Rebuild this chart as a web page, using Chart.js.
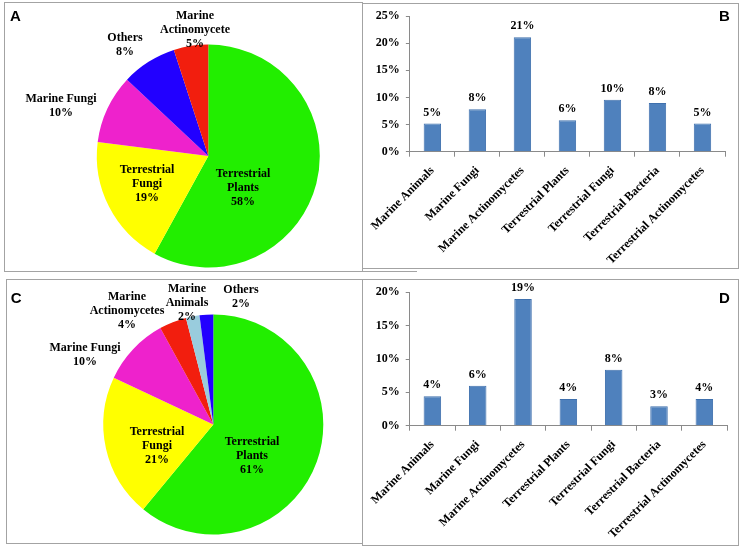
<!DOCTYPE html>
<html>
<head>
<meta charset="utf-8">
<title>Sources of natural products</title>
<script src="https://cdn.jsdelivr.net/npm/chart.js@4.4.1/dist/chart.umd.min.js"></script>
<style>
  html, body { margin: 0; padding: 0; background: #fff; }
  body { position: relative; width: 743px; height: 549px; overflow: hidden; }
  .panel { position: absolute; box-sizing: border-box; border: 1.5px solid #a3a3a3; }
  .stub { position: absolute; background: #a3a3a3; }
  canvas { position: absolute; }
</style>
</head>
<body>
<div class="panel" style="left:4px;top:2px;width:359px;height:270px"></div>
<div class="panel" style="left:362px;top:3px;width:377px;height:266px"></div>
<div class="panel" style="left:6px;top:279px;width:357px;height:265px"></div>
<div class="panel" style="left:362px;top:279px;width:377px;height:267px"></div>
<div class="stub" style="left:362px;top:270.5px;width:55px;height:1.5px"></div>

<canvas id="pieA" width="359" height="270" style="left:4px;top:2px"></canvas>
<canvas id="barB" width="375" height="265" style="left:363px;top:3px"></canvas>
<canvas id="pieC" width="357" height="265" style="left:6px;top:279px"></canvas>
<canvas id="barD" width="375" height="266" style="left:363px;top:279px"></canvas>

<script>
"use strict";

// ---- data ----

// panel A
var pieANames = ["Terrestrial Plants", "Terrestrial Fungi", "Marine Fungi", "Others", "Marine Actinomycete"];
var pieAValues = [58, 19, 10, 8, 5];
var pieALabels = [["Terrestrial", "Plants", "58%"], ["Terrestrial", "Fungi", "19%"],
                  ["Marine Fungi", "10%"], ["Others", "8%"], ["Marine", "Actinomycete", "5%"]];

// panel C
var pieCNames = ["Terrestrial Plants", "Terrestrial Fungi", "Marine Fungi", "Marine Actinomycetes", "Marine Animals", "Others"];
var pieCValues = [61, 21, 10, 4, 2, 2];
var pieCLabels = [["Terrestrial", "Plants", "61%"], ["Terrestrial", "Fungi", "21%"],
                  ["Marine Fungi", "10%"], ["Marine", "Actinomycetes", "4%"],
                  ["Marine", "Animals", "2%"], ["Others", "2%"]];

// panels B and D share categories
var barCategories = ["Marine Animals", "Marine Fungi", "Marine Actinomycetes", "Terrestrial Plants",
                     "Terrestrial Fungi", "Terrestrial Bacteria", "Terrestrial Actinomycetes"];
var barBValues = [5.2, 7.85, 21.1, 5.8, 9.6, 9.0, 5.2];
var barBLabels = ["5%", "8%", "21%", "6%", "10%", "8%", "5%"];
var barDValues = [4.4, 6.0, 19.0, 4.0, 8.4, 2.9, 4.0];
var barDLabels = ["4%", "6%", "19%", "4%", "8%", "3%", "4%"];

// ---- styling / layout ----
var colors = {
    plants: "#22EE00",
    tFungi: "#FFFF00",
    mFungi: "#EE22CC",
    others: "#2200FF",
    mActino: "#F21E0E",
    mAnimals: "#99CCDD",
    bar: "#4F81BD",
    barEdge: "#3F70AD",
    axis: "#8a8a8a"
};
var serif = '"Liberation Serif", "Times New Roman", serif';
var sans = '"Liberation Sans", Arial, sans-serif';

Chart.defaults.font.family = serif;
Chart.defaults.font.size = 12;
Chart.defaults.font.weight = "bold";
Chart.defaults.color = "#000";
Chart.defaults.animation = false;

// label block offsets from the pie centre (px, middle of the block)
var pieALabelPos = [[34.7, 31.5], [-61.3, 27.5], [-147.3, -50.5], [-83.3, -111], [-13.3, -126.5]];
var pieCLabelPos = [[38.7, 31.5], [-56.3, 21.5], [-128.3, -69.5], [-86.3, -113.5], [-26.3, -121.5], [27.7, -127.5]];

// draws the multi-line text next to each slice
var pieLabelPlugin = {
    id: "pieLabels",
    afterDatasetsDraw: function (chart, args, opts) {
        var arc = chart.getDatasetMeta(0).data[0],
            ctx = chart.ctx;
        ctx.save();
        ctx.font = "bold 12px " + serif;
        ctx.fillStyle = "#000";
        ctx.textAlign = "center";
        ctx.textBaseline = "middle";
        opts.lines.forEach(function (lines, i) {
            var off = opts.pos[i],
                n = lines.length;
            lines.forEach(function (t, j) {
                ctx.fillText(t, arc.x + off[0], arc.y + off[1] + (j - (n - 1) / 2) * 14);
            });
        });
        ctx.restore();
    }
};

// the "A", "B", ... letter in the panel corner
var panelTagPlugin = {
    id: "panelTag",
    afterDraw: function (chart, args, opts) {
        var ctx = chart.ctx;
        ctx.save();
        ctx.font = "bold 15px " + sans;
        ctx.fillStyle = "#000";
        ctx.textAlign = "left";
        ctx.textBaseline = "alphabetic";
        ctx.fillText(opts.text, opts.x, opts.y);
        ctx.restore();
    }
};

// percentage above every bar
var barValuePlugin = {
    id: "barValues",
    afterDatasetsDraw: function (chart, args, opts) {
        var ctx = chart.ctx;
        ctx.save();
        ctx.font = "bold 12px " + serif;
        ctx.fillStyle = "#000";
        ctx.textAlign = "center";
        ctx.textBaseline = "alphabetic";
        chart.getDatasetMeta(0).data.forEach(function (bar, i) {
            ctx.fillText(opts.labels[i], bar.x, bar.y - 8);
        });
        ctx.restore();
    }
};

function pieConfig(names, values, sliceColors, lines, pos, padding, tag) {
    return {
        type: "pie",
        data: {
            labels: names,
            datasets: [{
                data: values,
                backgroundColor: sliceColors,
                borderWidth: 0,
                hoverOffset: 0,
                offset: 0
            }]
        },
        options: {
            responsive: false,
            layout: { padding: padding },
            plugins: {
                legend: { display: false },
                tooltip: { enabled: false },
                pieLabels: { lines: lines, pos: pos },
                panelTag: tag
            }
        },
        plugins: [pieLabelPlugin, panelTagPlugin]
    };
}

function barConfig(values, labels, yMax, yWidth, xHeight, padding, tag) {
    return {
        type: "bar",
        data: {
            labels: barCategories,
            datasets: [{
                data: values,
                backgroundColor: colors.bar,
                borderColor: colors.barEdge,
                borderWidth: 1,
                barPercentage: 0.386,
                categoryPercentage: 1
            }]
        },
        options: {
            responsive: false,
            layout: { padding: padding },
            scales: {
                x: {
                    offset: true,
                    grid: { display: true, drawOnChartArea: false, offset: true, tickLength: 5, color: colors.axis },
                    border: { color: colors.axis },
                    ticks: { maxRotation: 45, minRotation: 45, padding: 7, autoSkip: false },
                    afterFit: function (scale) { scale.height = xHeight; }
                },
                y: {
                    min: 0,
                    max: yMax,
                    grid: { drawOnChartArea: false, tickLength: 4, color: colors.axis },
                    border: { color: colors.axis },
                    ticks: {
                        stepSize: 5,
                        padding: 6,
                        callback: function (v) { return v + "%"; }
                    },
                    afterFit: function (scale) { scale.width = yWidth; }
                }
            },
            plugins: {
                legend: { display: false },
                tooltip: { enabled: false },
                barValues: { labels: labels },
                panelTag: tag
            }
        },
        plugins: [barValuePlugin, panelTagPlugin]
    };
}

new Chart(document.getElementById("pieA"), pieConfig(
    pieANames, pieAValues,
    [colors.plants, colors.tFungi, colors.mFungi, colors.others, colors.mActino],
    pieALabels, pieALabelPos,
    { left: 92.8, right: 43.2, top: 42.5, bottom: 4.5 },
    { text: "A", x: 6, y: 18.7 }
));

new Chart(document.getElementById("pieC"), pieConfig(
    pieCNames, pieCValues,
    [colors.plants, colors.tFungi, colors.mFungi, colors.mActino, colors.mAnimals, colors.others],
    pieCLabels, pieCLabelPos,
    { left: 97.3, right: 39.7, top: 35.5, bottom: 9.5 },
    { text: "C", x: 4.7, y: 24 }
));

new Chart(document.getElementById("barB"), barConfig(
    barBValues, barBLabels, 25, 45, 116.3,
    { left: 0, right: 13, top: 12.7, bottom: 0 },
    { text: "B", x: 356, y: 17.7 }
));

new Chart(document.getElementById("barD"), barConfig(
    barDValues, barDLabels, 20, 45, 119.3,
    { left: 0, right: 11, top: 13.3, bottom: 0 },
    { text: "D", x: 356, y: 24 }
));
</script>
</body>
</html>
